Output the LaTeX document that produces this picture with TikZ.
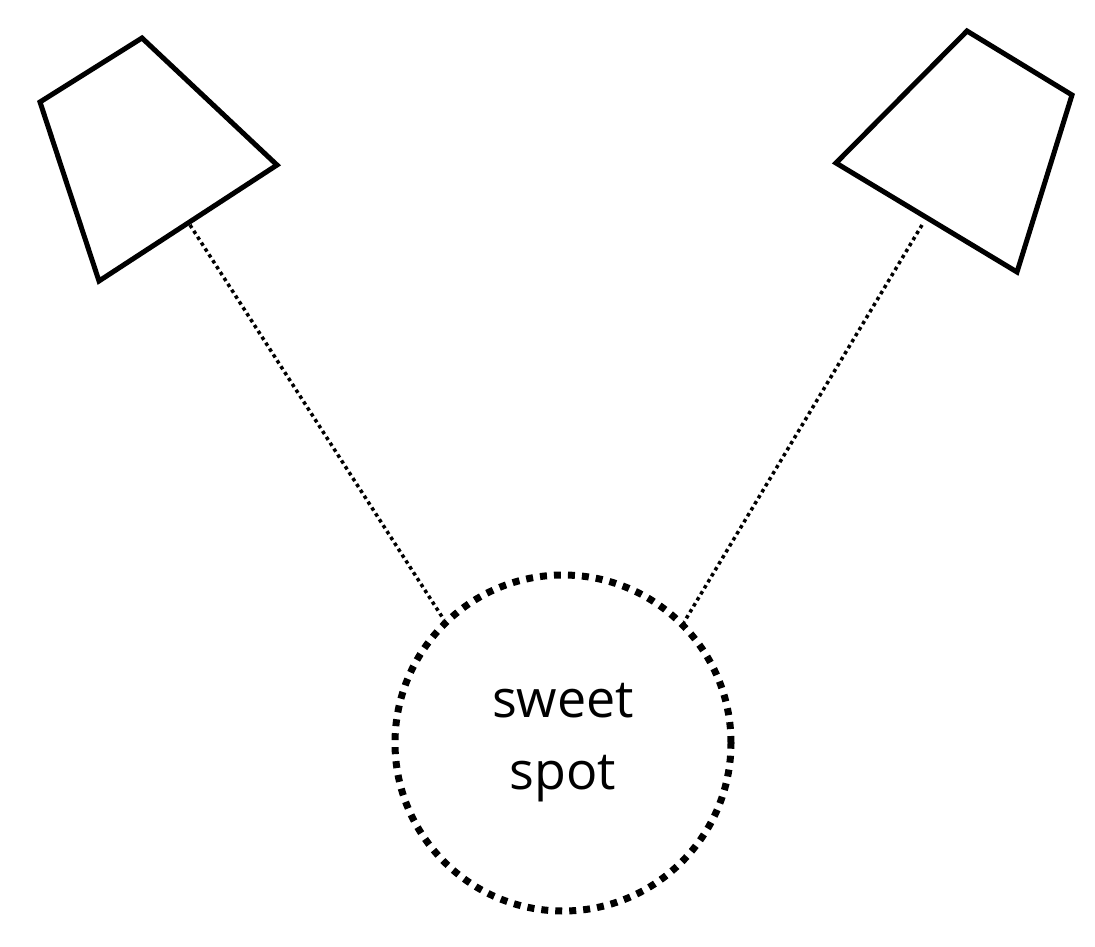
\documentclass[tikz,border=0pt]{standalone}
\usepackage{fontspec}
\setmainfont{Open Sans}
\begin{document}
\begin{tikzpicture}[x=1pt,y=-1pt,
  spk/.style={line width=5pt,line join=miter},
  beam/.style={line width=3.5pt,dash pattern=on 3.5pt off 3.5pt},
  spot/.style={circle,draw,minimum size=336pt,line width=7pt,dash pattern=on 7pt off 7pt,align=center,font=\fontsize{52}{72}\selectfont}]
\useasboundingbox (0,0) rectangle (1095,946);
\draw[spk] (142,38) -- (277,165) -- (99,281) -- (40,102) -- cycle;
\draw[spk] (967,31) -- (1072,95) -- (1017,272) -- (836,163) -- cycle;
\coordinate (L) at (190,225);
\coordinate (R) at (922,225);
\node[spot] (ss) at (563,743) {sweet\\spot};
\draw[beam] (L) -- (ss.134);
\draw[beam] (R) -- (ss.45);
\end{tikzpicture}
\end{document}
